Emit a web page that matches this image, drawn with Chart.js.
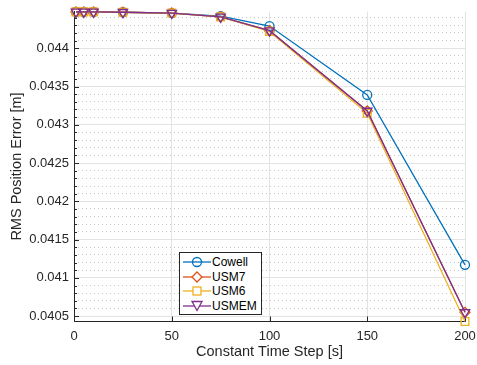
<!DOCTYPE html>
<html>
<head>
<meta charset="utf-8">
<script src="https://cdn.jsdelivr.net/npm/chart.js@4/dist/chart.umd.min.js"></script>
<style>
  html, body { margin: 0; padding: 0; background: #fff; }
  #wrap { position: relative; width: 477px; height: 365px; }
  #legend {
    position: absolute; left: 179px; top: 252px; width: 81px; height: 61px;
    border: 1px solid #262626; background: #fff;
    font-family: "Liberation Sans", Arial, sans-serif; font-size: 12px; color: #000;
  }
  .item { position: absolute; left: 0; height: 14px; line-height: 14px; white-space: nowrap; }
  .item svg { position: absolute; left: 3px; top: 0; }
  .item span { position: absolute; left: 32px; top: 0; }
</style>
</head>
<body>
<div id="wrap">
  <canvas id="c" width="477" height="365"></canvas>
  <div id="legend"></div>
</div>
<script>
// ---- data ----
const timeSteps = [1, 5, 10, 25, 50, 75, 100, 150, 200];
const cowell = [0.044475, 0.044475, 0.044475, 0.04447, 0.04446, 0.04442, 0.04429, 0.04339, 0.04117];
const usm7   = [0.044475, 0.044475, 0.044475, 0.04447, 0.04446, 0.04441, 0.04423, 0.04318, 0.04055];
const usm6   = [0.044475, 0.044475, 0.044475, 0.04447, 0.04446, 0.04441, 0.04422, 0.04315, 0.04043];
const usmem  = [0.044475, 0.044475, 0.044475, 0.04447, 0.04446, 0.04441, 0.04423, 0.04318, 0.04055];
const seriesNames = ['Cowell', 'USM7', 'USM6', 'USMEM'];
const xLimits = [0, 200];
const yLimits = [0.04043, 0.04448];
const xStep = 50;
const yMajorStep = 0.0005;
const yMinorStep = 0.0001;

const colors = ['#0072BD', '#D95319', '#EDB120', '#7E2F8E'];
const styles = [
  { pointStyle: 'circle', radius: 4.5, rotation: 0 },
  { pointStyle: 'rectRot', radius: 5, rotation: 0 },
  { pointStyle: 'rect', radius: 5.5, rotation: 0 },
  { pointStyle: 'triangle', radius: 5.5, rotation: 180 }
];
const allSeries = [cowell, usm7, usm6, usmem];

const isMult = (v, s) => Math.abs(v / s - Math.round(v / s)) < 1e-6;
const axisColor = '#262626';
const fontFam = '"Liberation Sans", Arial, sans-serif';

function stepTicks(min, max, step, excludeStep) {
  const out = [];
  for (let k = Math.ceil(min / step - 1e-9); k <= Math.floor(max / step + 1e-9); k++) {
    const v = Number((k * step).toFixed(6));
    if (excludeStep && isMult(v, excludeStep)) continue;
    out.push({ value: v });
  }
  return out;
}

const datasets = allSeries.map((vals, i) => ({
  label: seriesNames[i],
  data: timeSteps.map((t, j) => ({ x: t, y: vals[j] })),
  borderColor: colors[i],
  backgroundColor: 'rgba(0,0,0,0)',
  pointBorderColor: colors[i],
  pointBackgroundColor: 'rgba(0,0,0,0)',
  pointStyle: styles[i].pointStyle,
  pointRadius: styles[i].radius,
  pointRotation: styles[i].rotation,
  pointBorderWidth: 1.3,
  borderWidth: 1.3,
  tension: 0,
  fill: false,
  clip: false,
  order: 3 - i
}));

const inwardTicks = {
  id: 'inwardTicks',
  beforeDatasetsDraw(chart) {
    const { ctx, chartArea: a } = chart;
    const y = chart.scales.y, ym = chart.scales.yMinor, x = chart.scales.x;
    ctx.save();
    ctx.strokeStyle = axisColor;
    ctx.lineWidth = 1;
    ctx.beginPath();
    y.ticks.forEach(t => {
      const p = Math.round(y.getPixelForValue(t.value)) + 0.5;
      ctx.moveTo(a.left, p); ctx.lineTo(a.left + 5, p);
    });
    ym.ticks.forEach(t => {
      const p = Math.round(ym.getPixelForValue(t.value)) + 0.5;
      ctx.moveTo(a.left, p); ctx.lineTo(a.left + 3, p);
    });
    x.ticks.forEach(t => {
      const p = Math.round(x.getPixelForValue(t.value)) + 0.5;
      ctx.moveTo(p, a.bottom); ctx.lineTo(p, a.bottom - 5);
    });
    ctx.stroke();
    ctx.restore();
  }
};

new Chart(document.getElementById('c'), {
  type: 'line',
  data: { datasets },
  plugins: [inwardTicks],
  options: {
    responsive: false,
    devicePixelRatio: 1,
    animation: false,
    layout: { padding: { top: 11.5, right: 12, bottom: 0, left: 0 } },
    plugins: { legend: { display: false }, tooltip: { enabled: false } },
    scales: {
      x: {
        type: 'linear',
        min: xLimits[0], max: xLimits[1],
        afterFit: s => { s.height = 43.5; s.paddingLeft = 0; s.paddingRight = 0; },
        ticks: { stepSize: xStep, color: axisColor, padding: 7, font: { family: fontFam, size: 13 } },
        grid: { color: '#e3e3e3', drawTicks: false },
        border: { color: axisColor, width: 1 },
        title: { display: true, text: 'Constant Time Step [s]', color: axisColor,
                 font: { family: fontFam, size: 14.5 }, padding: { top: 0, bottom: 4 } }
      },
      y: {
        type: 'linear',
        position: 'left',
        min: yLimits[0], max: yLimits[1],
        afterBuildTicks: s => { s.ticks = stepTicks(yLimits[0], yLimits[1], yMajorStep); },
        afterFit: s => { s.width = 74; s.paddingTop = 0; s.paddingBottom = 0; },
        ticks: {
          autoSkip: false, color: axisColor, padding: 5,
          font: { family: fontFam, size: 13 },
          callback: v => String(Number(Number(v).toFixed(5)))
        },
        grid: { color: '#e3e3e3', drawTicks: false },
        border: { color: axisColor, width: 1 },
        title: { display: true, text: 'RMS Position Error [m]', color: axisColor,
                 font: { family: fontFam, size: 14.5 }, padding: { top: 8, bottom: 0 } }
      },
      yMinor: {
        type: 'linear',
        position: 'left',
        min: yLimits[0], max: yLimits[1],
        afterBuildTicks: s => { s.ticks = stepTicks(yLimits[0], yLimits[1], yMinorStep, yMajorStep); },
        afterFit: s => { s.width = 0; s.paddingTop = 0; s.paddingBottom = 0; },
        ticks: { display: false },
        grid: { color: '#c4c4c4', drawTicks: false, lineWidth: 1 },
        border: { display: false, dash: [1, 3] }
      }
    }
  }
});

// legend (HTML, line + marker + text)
const legendEl = document.getElementById('legend');
function markerSvg(i) {
  const c = colors[i];
  let m = '';
  if (i === 0) m = `<circle cx="14" cy="7" r="4.5" fill="none" stroke="${c}" stroke-width="1.3"/>`;
  if (i === 1) m = `<polygon points="14,2 19,7 14,12 9,7" fill="#fff" stroke="${c}" stroke-width="1.3"/>`;
  if (i === 2) m = `<rect x="10" y="3" width="8" height="8" fill="#fff" stroke="${c}" stroke-width="1.3"/>`;
  if (i === 3) m = `<polygon points="9,2.5 19,2.5 14,11.5" fill="#fff" stroke="${c}" stroke-width="1.3"/>`;
  return `<svg width="28" height="14" viewBox="0 0 28 14"><line x1="0" y1="7" x2="28" y2="7" stroke="${c}" stroke-width="1.3"/>${m}</svg>`;
}
seriesNames.forEach((n, i) => {
  const d = document.createElement('div');
  d.className = 'item';
  d.style.top = (2 + i * 14.7) + 'px';
  d.innerHTML = markerSvg(i) + `<span>${n}</span>`;
  legendEl.appendChild(d);
});
</script>
</body>
</html>
